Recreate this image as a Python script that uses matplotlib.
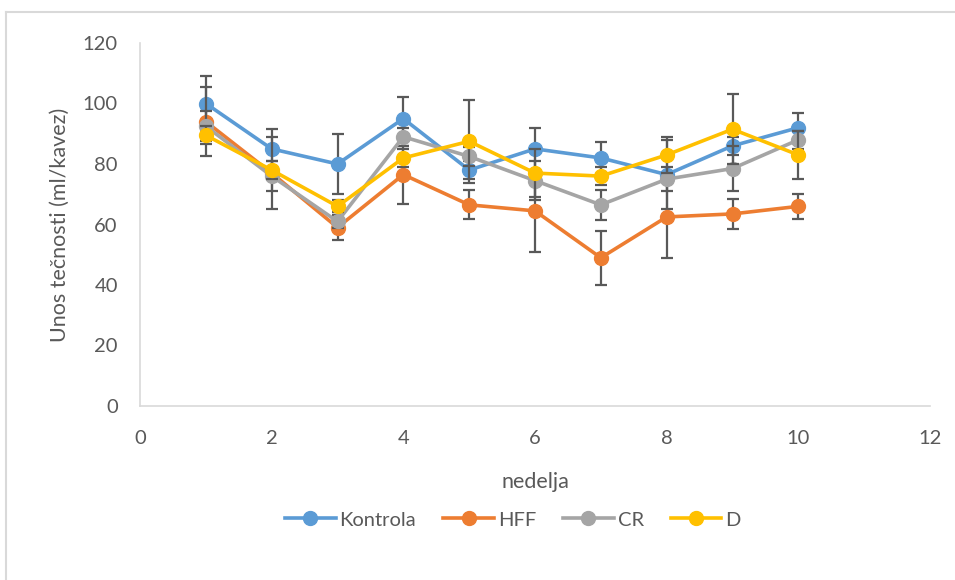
import matplotlib.pyplot as plt
from matplotlib.lines import Line2D

plt.rcParams['font.family'] = ['Lato', 'DejaVu Sans']

weeks = [1, 2, 3, 4, 5, 6, 7, 8, 9, 10]
kontrola = [100, 85, 80, 95, 78, 85, 82, 76.5, 86, 92]
hff = [94, 77, 59, 76.5, 66.5, 64.5, 49, 62.5, 63.5, 66]
cr = [92.5, 76, 61, 89, 82.5, 74.5, 66.5, 75, 78.5, 88]
d = [89.5, 78, 66, 82, 87.5, 77, 76, 83, 91.5, 83]

kontrola_err = [9, 6.5, 10, 7, 3, 7, 5.2, 11.5, 3, 4.8]
hff_err = [11.5, 12, 4, 9.6, 4.8, 13.6, 9, 13.5, 5, 4.2]
cr_err = [5, 5, 2, 3, 3, 6.5, 5, 4, 7.5, 3]
d_err = [3, 3, 2, 3, 13.8, 8, 3, 6, 11.5, 8]

series = [
    ("Kontrola", kontrola, kontrola_err, "#5B9BD5"),
    ("HFF", hff, hff_err, "#ED7D31"),
    ("CR", cr, cr_err, "#A5A5A5"),
    ("D", d, d_err, "#FFC000"),
]

fig = plt.figure(figsize=(9.55, 5.8), dpi=100)
ax = fig.add_axes([140 / 955, 1 - 406 / 580, 790 / 955, 363 / 580])

# chart area frame (top and left edges)
frame_col = "#D9D9D9"
fig.add_artist(Line2D([6 / 955, 1], [1 - 12 / 580] * 2, color=frame_col, lw=1.5))
fig.add_artist(Line2D([6 / 955] * 2, [0, 1 - 12 / 580], color=frame_col, lw=1.5))

for i, (name, vals, err, col) in enumerate(series):
    ax.errorbar(weeks, vals, yerr=err, fmt="none", ecolor="#595959",
                elinewidth=1.6, capsize=4, capthick=1.6, zorder=2 + i * 2)
    ax.plot(weeks, vals, color=col, lw=2.6, marker="o", markersize=10,
            label=name, zorder=3 + i * 2)

ax.set_xlim(0, 12)
ax.set_ylim(0, 120)
ax.set_xticks(range(0, 13, 2))
ax.set_yticks(range(0, 121, 20))
ax.tick_params(length=0, labelsize=14.5, labelcolor="#595959")
ax.tick_params(axis="x", pad=17)
ax.tick_params(axis="y", pad=16)

for s in ("top", "right"):
    ax.spines[s].set_visible(False)
for s in ("left", "bottom"):
    ax.spines[s].set_color("#D9D9D9")
    ax.spines[s].set_linewidth(1.2)

ax.set_ylabel("Unos tečnosti (ml/kavez)", fontsize=15.5, color="#595959", labelpad=9)
ax.set_xlabel("nedelja", fontsize=15.5, color="#595959", labelpad=18)

ax.legend(loc="center", bbox_to_anchor=(0.472, -0.314), ncol=4, frameon=False,
          fontsize=14.5, labelcolor="#595959", handlelength=2.5,
          handletextpad=0.2, columnspacing=1.35)

fig.savefig("out.png", dpi=100)
